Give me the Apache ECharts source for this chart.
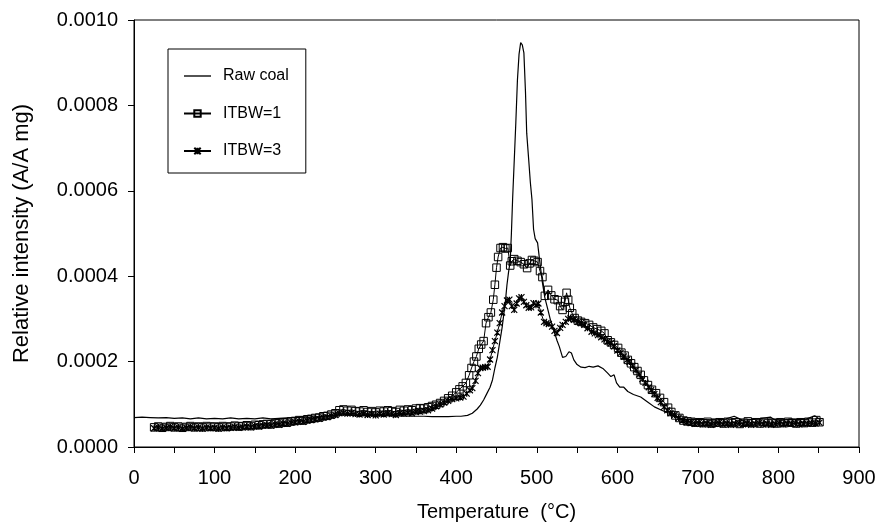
<!DOCTYPE html>
<html>
<head>
<meta charset="utf-8">
<script src="https://cdn.jsdelivr.net/npm/echarts@6/dist/echarts.min.js"></script>
<style>
html,body{margin:0;padding:0;background:#fff;}
#chart{width:875px;height:526px;}
</style>
</head>
<body>
<div id="chart"></div>
<script>
// values in units of 1e-5 (A/A mg)
const UNIT = 1e-5;
const xTicks = [0, 100, 200, 300, 400, 500, 600, 700, 800, 900];
const yTicks = [0.0000, 0.0002, 0.0004, 0.0006, 0.0008, 0.0010];
const seriesNames = ['Raw coal', 'ITBW=1', 'ITBW=3'];

const rawCoal = [
[0,6.9],[10,7.0],[20,6.9],[30,6.8],[40,6.9],[50,6.7],[60,6.8],[70,6.6],[80,6.8],[90,6.6],
[100,6.7],[110,6.6],[120,6.8],[130,6.6],[140,6.7],[150,6.6],[160,6.8],[170,6.6],[180,6.7],[190,6.8],
[200,6.9],[210,7.0],[220,7.0],[230,7.1],[240,7.3],[250,7.4],[260,7.5],[270,7.4],[280,7.3],[290,7.4],
[300,7.3],[310,7.4],[320,7.3],[330,7.3],[340,7.2],[350,7.2],[360,7.2],[370,7.1],[380,7.1],[390,7.1],
[400,7.2],[406,7.2],[414,7.4],[420,7.9],[426,8.9],[430,9.8],[434,11.0],[438,12.5],[442,14.0],[445,15.7],
[448,18.5],[451,21.0],[454,24.5],[457,28.0],[459,31.0],[461,34.0],[463,38.0],[465,41.0],[467,43.5],[468.5,50],
[470,58],[472,67],[474,76],[476,86],[478,92],[480,94.7],[482,94.2],[484,92.3],[486,83],[487.5,73.5],
[490,67.2],[492,62],[494,58],[496,51],[498,48.8],[501,47.8],[504,43],[507,38.5],[510,35],[514,32],
[517,29.7],[521,27.5],[525,25],[528,23.5],[532,21],[536,21.2],[540,22.3],[543,22],[546,20.4],[550,19.3],
[555,18.7],[560,18.6],[565,18.9],[570,18.7],[576,19.0],[582,18.4],[588,17.3],[592,16.5],[596,16.9],[599,15.0],
[603,14.0],[608,14.0],[613,13.0],[620,12.3],[629,11.7],[638,10.5],[646,9.4],[655,8.6],[663,8.0],[670,7.3],
[678,6.7],[685,6.4],[695,6.4],[705,6.5],[715,6.3],[725,6.4],[735,6.6],[745,7.2],[755,6.3],[765,6.4],
[775,6.6],[790,7.0],[795,6.4],[805,6.3],[815,6.5],[825,6.4],[835,6.6],[845,7.3],[852,6.4]
];

const itbw1 = [
[25,4.6],[30,4.8],[35,4.5],[40,4.7],[45,4.9],[50,4.6],[55,4.8],[60,4.5],[65,4.7],[70,4.9],
[75,4.6],[80,4.8],[85,4.6],[90,4.9],[95,4.7],[100,4.8],[105,4.6],[110,4.9],[115,4.7],[120,4.8],
[125,5.0],[130,4.8],[135,4.9],[140,5.1],[145,4.9],[150,5.2],[155,5.1],[160,5.3],[165,5.4],[170,5.3],
[175,5.6],[180,5.5],[185,5.8],[190,5.7],[195,6.0],[200,6.1],[205,6.3],[210,6.2],[215,6.5],[220,6.6],
[225,6.8],[230,6.9],[235,7.2],[240,7.3],[245,7.6],[250,7.9],[255,8.6],[260,8.8],[265,8.5],[270,8.7],
[275,8.4],[280,8.3],[285,8.6],[290,8.2],[295,8.4],[300,8.1],[305,8.5],[310,8.3],[315,8.6],[320,8.4],
[325,8.2],[330,8.7],[335,8.5],[340,8.8],[345,8.6],[350,9.0],[355,9.1],[360,9.0],[365,9.3],[370,9.6],
[375,9.9],[380,10.3],[385,10.8],[390,11.4],[395,12.0],[400,12.8],[404,13.5],[408,14.2],[412,15.0],[416,16.8],
[419,18.5],[422,20.0],[425,21.2],[428,23.0],[431,24.0],[434,24.8],[437,29.0],[440,30.4],[443,31.5],[446,34.5],
[448,38.0],[450,42.0],[452,44.5],[455,46.6],[458,46.8],[461,46.5],[464,46.6],[467,42.5],[469,43.5],[472,44.0],
[476,43.6],[480,43.3],[484,42.8],[488,41.9],[491,43.0],[494,43.8],[497,43.6],[501,43.3],[504,41.2],[507,39.8],
[510,35.4],[514,36.8],[518,35.5],[522,34.6],[526,34.4],[529,33.0],[532,32.1],[535,34.0],[537,36.1],[539,34.5],
[541,32.6],[544,31.3],[547,30.2],[551,29.6],[555,29.3],[560,29.0],[565,28.6],[570,28.0],[575,27.6],[580,27.2],
[584,26.6],[588,25.0],[592,24.5],[596,23.9],[601,23.2],[605,22.1],[609,21.4],[613,20.4],[617,19.6],[621,18.7],
[625,17.8],[629,16.9],[633,15.6],[638,14.5],[643,13.4],[648,12.6],[653,11.5],[658,10.5],[663,9.2],[667,8.2],
[672,7.4],[677,6.8],[682,6.2],[687,6.0],[692,5.9],[697,5.7],[702,5.8],[707,5.6],[712,5.9],[717,5.5],
[722,5.7],[727,5.8],[732,5.5],[737,5.9],[742,5.6],[747,5.8],[752,5.4],[757,5.7],[762,6.0],[767,5.6],
[772,5.8],[777,5.5],[782,5.9],[787,5.6],[792,5.7],[797,5.5],[802,5.8],[807,5.6],[812,5.9],[817,5.7],
[822,5.5],[827,5.8],[832,5.6],[837,5.9],[842,5.7],[847,6.3],[851,5.8]
];

const itbw3 = [
[25,4.4],[30,4.6],[35,4.3],[40,4.5],[45,4.7],[50,4.4],[55,4.6],[60,4.3],[65,4.5],[70,4.7],
[75,4.4],[80,4.6],[85,4.3],[90,4.6],[95,4.4],[100,4.5],[105,4.3],[110,4.6],[115,4.4],[120,4.5],
[125,4.7],[130,4.5],[135,4.6],[140,4.8],[145,4.6],[150,4.9],[155,4.8],[160,5.0],[165,5.1],[170,5.0],
[175,5.3],[180,5.2],[185,5.5],[190,5.4],[195,5.7],[200,5.8],[205,6.0],[210,5.9],[215,6.2],[220,6.3],
[225,6.5],[230,6.6],[235,6.9],[240,7.0],[245,7.3],[250,7.5],[255,7.9],[260,8.0],[265,7.8],[270,8.0],
[275,7.7],[280,7.6],[285,7.9],[290,7.5],[295,7.7],[300,7.4],[305,7.8],[310,7.6],[315,7.9],[320,7.7],
[325,7.5],[330,7.9],[335,7.8],[340,8.0],[345,7.9],[350,8.2],[355,8.3],[360,8.4],[365,8.6],[370,9.0],
[375,9.5],[380,10.0],[385,10.4],[390,10.8],[395,11.2],[400,11.4],[405,11.6],[409,11.8],[413,12.5],[417,13.3],
[420,13.8],[424,15.5],[427,17.3],[430,18.5],[433,18.6],[436,18.7],[439,18.8],[442,20.5],[445,22.7],[448,24.8],
[451,26.8],[454,29.0],[457,31.5],[460,33.0],[463,34.3],[466,34.5],[469,33.0],[472,32.1],[475,33.6],[478,34.8],
[481,35.1],[484,34.0],[487,33.2],[490,32.6],[493,32.7],[496,33.7],[499,33.2],[502,33.6],[505,31.5],[509,29.3],
[512,29.0],[515,28.8],[519,28.2],[522,27.2],[525,26.7],[529,27.9],[532,28.6],[536,29.3],[539,30.0],[542,30.2],
[546,29.8],[551,29.3],[555,29.0],[559,28.6],[563,27.8],[568,27.0],[572,26.6],[576,26.2],[580,25.7],[584,25.2],
[588,24.7],[592,24.3],[596,23.6],[600,22.6],[604,22.0],[608,21.2],[612,20.4],[615,19.9],[619,19.0],[623,18.0],
[627,17.0],[631,15.9],[635,15.0],[639,14.0],[642,13.3],[646,12.4],[650,11.5],[654,10.5],[658,9.4],[662,8.6],
[666,7.9],[671,7.5],[676,6.8],[681,6.2],[686,5.8],[691,5.6],[696,5.4],[701,5.6],[706,5.3],[711,5.5],
[716,5.2],[721,5.4],[726,5.6],[731,5.3],[736,5.5],[741,5.2],[746,5.4],[751,5.6],[756,5.3],[761,5.5],
[766,5.2],[771,5.4],[776,5.6],[781,5.3],[786,5.5],[791,5.2],[796,5.4],[801,5.6],[806,5.3],[811,5.5],
[816,5.4],[821,5.6],[826,5.3],[831,5.5],[836,5.4],[841,5.6],[846,5.5],[851,5.7]
];

const toData = arr => arr.map(p => [p[0], p[1] * UNIT]);
const FONT = '"Liberation Sans", Arial, Helvetica, sans-serif';
const starPath = 'path://M0,0L10,10M10,0L0,10M5,0L5,10';
const lineIcon = 'path://M0,0H100V5H0Z';

const chart = echarts.init(document.getElementById('chart'), null, {renderer: 'canvas'});
chart.setOption({
  animation: false,
  backgroundColor: '#fff',
  grid: {left: 134, top: 20, right: 16, bottom: 79, show: true, borderColor: '#000', borderWidth: 1,
    backgroundColor: 'transparent', containLabel: false, outerBoundsMode: 'none'},
  legend: {
    orient: 'vertical',
    left: 168, top: 49,
    padding: [19, 17, 14, 15],
    itemWidth: 27, itemHeight: 8, itemGap: 21.5,
    symbolKeepAspect: true,
    borderColor: '#000', borderWidth: 1,
    backgroundColor: '#fff',
    textStyle: {fontFamily: FONT, fontSize: 16, color: '#000', padding: [0, 0, 0, 7]},
    data: [
      {name: seriesNames[0], icon: lineIcon, itemStyle: {color: '#000'}},
      {name: seriesNames[1]},
      {name: seriesNames[2]}
    ]
  },
  xAxis: {
    type: 'value', min: 0, max: 900, interval: 50,
    name: 'Temperature  (\u00B0C)', nameLocation: 'middle', nameGap: 55,
    nameTextStyle: {fontFamily: FONT, fontSize: 20, color: '#000'},
    axisLine: {lineStyle: {color: '#000', width: 1}},
    axisTick: {show: true, inside: false, length: 6, lineStyle: {color: '#000'}},
    axisLabel: {fontFamily: FONT, fontSize: 20, color: '#000', margin: 21,
      formatter: v => (xTicks.indexOf(v) >= 0 ? String(v) : '')},
    splitLine: {show: false}
  },
  yAxis: {
    type: 'value', min: 0, max: 0.001, interval: 0.0002,
    name: 'Relative intensity (A/A mg)', nameLocation: 'middle', nameGap: 101,
    nameTextStyle: {fontFamily: FONT, fontSize: 22, color: '#000'},
    axisLine: {show: true, lineStyle: {color: '#000', width: 1}},
    axisTick: {show: true, inside: false, length: 6, lineStyle: {color: '#000'}},
    axisLabel: {fontFamily: FONT, fontSize: 20, color: '#000', margin: 16,
      formatter: v => { const t = yTicks.find(y => Math.abs(y - v) < 1e-9); return t === undefined ? '' : t.toFixed(4); }},
    splitLine: {show: false}
  },
  series: [
    {
      name: seriesNames[0], type: 'line', data: toData(rawCoal),
      showSymbol: false, symbol: 'none',
      lineStyle: {color: '#000', width: 1.2},
      itemStyle: {color: '#000'}, z: 3
    },
    {
      name: seriesNames[1], type: 'line', data: toData(itbw1),
      symbol: 'rect', symbolSize: 7.5, showAllSymbol: true,
      lineStyle: {color: '#000', width: 1},
      itemStyle: {color: 'rgba(255,255,255,0)', borderColor: '#000', borderWidth: 1}, z: 2
    },
    {
      name: seriesNames[2], type: 'line', data: toData(itbw3),
      symbol: starPath, symbolSize: 6, showAllSymbol: true,
      lineStyle: {color: '#000', width: 1},
      itemStyle: {color: 'rgba(255,255,255,0)', borderColor: '#000', borderWidth: 1.2}, z: 2
    }
  ]
});
</script>
</body>
</html>
